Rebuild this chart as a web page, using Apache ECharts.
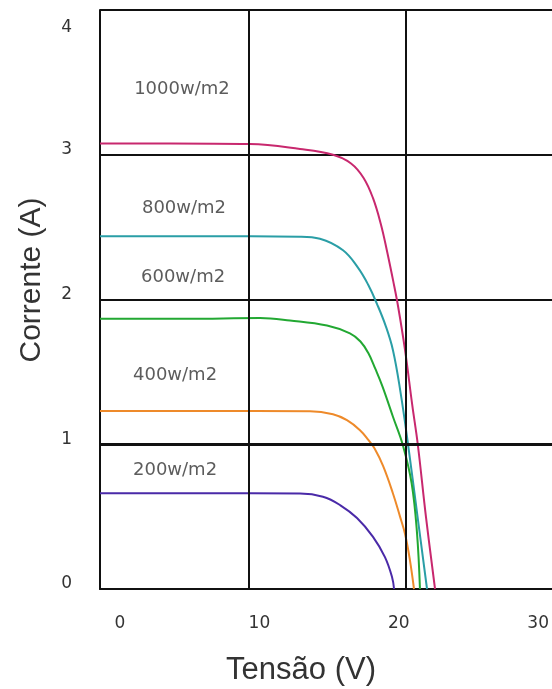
<!DOCTYPE html>
<html>
<head>
<meta charset="utf-8">
<script src="https://cdn.jsdelivr.net/npm/echarts@6/dist/echarts.min.js"></script>
<style>html,body{margin:0;padding:0;background:#fff;}#c{width:552px;height:689px;}</style>
</head>
<body>
<div id="c"></div>
<script>
// Tensão (V) / Corrente (A)
var v1000 = [0.51, 5.0, 10.06, 13.25, 15.35, 16.5, 17.3, 17.9, 18.4, 18.8, 19.2, 19.5, 19.94, 20.4, 20.75, 21.27, 21.85];
var i1000 = [3.078, 3.078, 3.074, 3.04, 3.00, 2.94, 2.84, 2.70, 2.52, 2.33, 2.12, 1.95, 1.65, 1.27, 1.00, 0.50, 0.0];
var v800 = [0.51, 7.0, 13.25, 14.52, 15.99, 16.94, 17.6, 18.15, 18.7, 19.17, 19.65, 20.13, 20.76, 21.34];
var i800 = [2.437, 2.437, 2.434, 2.42, 2.34, 2.22, 2.10, 1.97, 1.82, 1.65, 1.36, 1.00, 0.48, 0.0];
var v600 = [0.51, 6.0, 10.70, 12.61, 14.97, 16.43, 17.1, 17.6, 18.05, 18.5, 19.17, 19.81, 20.36, 20.70, 20.89];
var i600 = [1.867, 1.867, 1.872, 1.855, 1.82, 1.766, 1.71, 1.63, 1.52, 1.40, 1.19, 0.99, 0.73, 0.39, 0.0];
var v400 = [0.51, 7.0, 13.89, 15.35, 16.24, 17.07, 17.6, 18.0, 18.54, 19.17, 19.62, 19.94, 20.25, 20.51];
var i400 = [1.23, 1.23, 1.228, 1.207, 1.166, 1.097, 1.03, 0.97, 0.85, 0.66, 0.50, 0.38, 0.20, 0.0];
var v200 = [0.51, 7.0, 13.25, 14.71, 15.80, 16.88, 17.90, 18.66, 19.11, 19.24];
var i200 = [0.662, 0.662, 0.659, 0.637, 0.58, 0.49, 0.36, 0.22, 0.083, 0.0];

var seriesNames = ['1000w/m2', '800w/m2', '600w/m2', '400w/m2', '200w/m2'];
var seriesColors = ['#c8286e', '#2a9ea6', '#22a832', '#ee8a2a', '#4a2aa8'];
var labelX = [5.73, 5.86, 5.80, 5.29, 5.29];
var labelY = [3.455, 2.63, 2.15, 1.476, 0.82];
var xTicks = [0, 10, 20, 30];
var xGridValues = [10, 20];
var yTicks = [0, 1, 2, 3, 4];

function pairs(xs, ys) { return xs.map(function (x, k) { return [x, ys[k]]; }); }
var curves = [pairs(v1000, i1000), pairs(v800, i800), pairs(v600, i600), pairs(v400, i400), pairs(v200, i200)];

var series = curves.map(function (d, k) {
  return {
    type: 'line', name: seriesNames[k], data: d, xAxisIndex: 0, yAxisIndex: 0,
    showSymbol: false, smooth: 0.4, smoothMonotone: 'none',
    lineStyle: { color: seriesColors[k], width: 2 }, z: 3, silent: true
  };
});
var gridLines = xGridValues.map(function (v) { return { xAxis: v }; });
gridLines.push({ yAxis: 1, lineStyle: { color: '#111', width: 3, type: 'solid' } });
series.push({
  type: 'scatter', xAxisIndex: 0, yAxisIndex: 0, symbolSize: 0, silent: true,
  data: labelX.map(function (x, k) { return { value: [x, labelY[k]], name: seriesNames[k] }; }),
  label: { show: true, position: 'inside', formatter: '{b}', color: '#333',
    fontFamily: 'DejaVu Sans', fontSize: 18 },
  markLine: {
    silent: true, symbol: 'none', animation: false,
    label: { show: false },
    lineStyle: { color: '#111', width: 2, type: 'solid' },
    data: gridLines
  }
});

var chart = echarts.init(document.getElementById('c'));
chart.setOption({
  animation: false,
  backgroundColor: '#fff',
  grid: [
    { left: 100, right: 0, top: 10, bottom: 100 },
    { left: 120, right: 12, top: 10, bottom: 100 }
  ],
  xAxis: [
    { type: 'value', gridIndex: 0, min: 0.51, max: 29.3,
      axisLine: { show: true, lineStyle: { color: '#111', width: 2 } },
      axisTick: { show: false }, axisLabel: { show: false }, splitLine: { show: false } },
    { type: 'value', gridIndex: 1, min: xTicks[0], max: xTicks[xTicks.length - 1], interval: 10,
      axisLine: { show: false }, axisTick: { show: false }, splitLine: { show: false },
      axisLabel: { show: true, margin: 26, color: '#333', fontFamily: 'DejaVu Sans', fontSize: 17 } }
  ],
  yAxis: [
    { type: 'value', gridIndex: 0, min: yTicks[0], max: yTicks[yTicks.length - 1], interval: 1,
      axisLine: { show: true, lineStyle: { color: '#111', width: 2 } },
      axisTick: { show: false },
      splitLine: { show: true, showMaxLine: true, lineStyle: { color: '#111', width: 2 } },
      axisLabel: { show: true, margin: 28, color: '#333', fontFamily: 'DejaVu Sans', fontSize: 17,
        formatter: function (v) { return v === 4 ? '{d|' + v + '}' : '{u|' + v + '}'; },
        rich: { d: { padding: [36, 0, 0, 0] }, u: { padding: [0, 0, 10, 0] } } } },
    { type: 'value', gridIndex: 1, min: 0, max: 4, show: false }
  ],
  graphic: [
    { type: 'text', x: 301, y: 670, style: { text: 'Tensão (V)', fill: '#333',
      font: '31px "Liberation Sans"', textAlign: 'center', textVerticalAlign: 'middle' } },
    { type: 'text', x: 32, y: 280, rotation: Math.PI / 2, style: { text: 'Corrente (A)', fill: '#333',
      font: '30px "Liberation Sans"', textAlign: 'center', textVerticalAlign: 'middle' } }
  ],
  series: series
});
</script>
</body>
</html>
